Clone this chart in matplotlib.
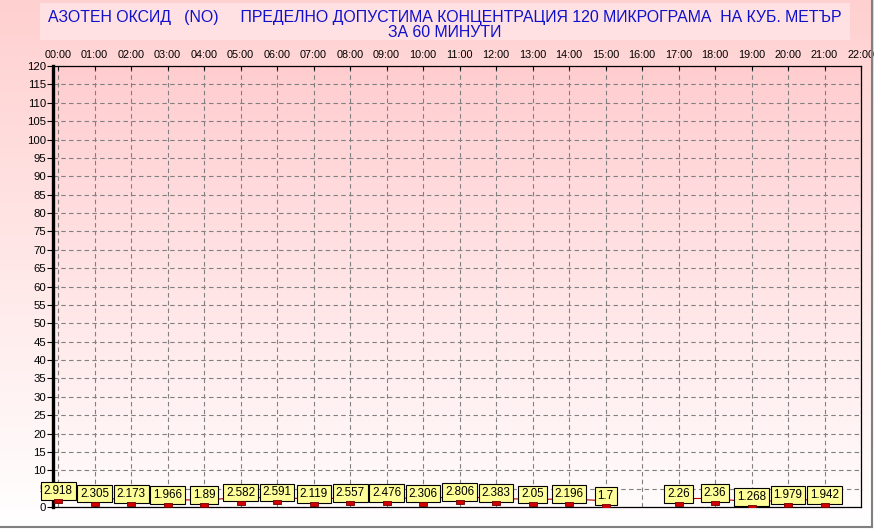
import numpy as np
import matplotlib.pyplot as plt
from matplotlib.lines import Line2D
from matplotlib.patches import Rectangle

# MARK:- data
hours = ["00:00", "01:00", "02:00", "03:00", "04:00", "05:00", "06:00", "07:00",
         "08:00", "09:00", "10:00", "11:00", "12:00", "13:00", "14:00", "15:00",
         "16:00", "17:00", "18:00", "19:00", "20:00", "21:00", "22:00"]
values = [2.918, 2.305, 2.173, 1.966, 1.89, 2.582, 2.591, 2.119, 2.557, 2.476,
          2.306, 2.806, 2.383, 2.05, 2.196, 1.7, np.nan, 2.26, 2.36, 1.268,
          1.979, 1.942]
labels = ["2.918", "2.305", "2.173", "1.966", "1.89", "2.582", "2.591", "2.119",
          "2.557", "2.476", "2.306", "2.806", "2.383", "2.05", "2.196", "1.7",
          "", "2.26", "2.36", "1.268", "1.979", "1.942"]
yticks = list(range(0, 125, 5))
title = ("АЗОТЕН ОКСИД   (NO)     ПРЕДЕЛНО ДОПУСТИМА КОНЦЕНТРАЦИЯ 120 МИКРОГРАМА  НА КУБ. МЕТЪР\n"
         "ЗА 60 МИНУТИ")

plt.rcParams['font.family'] = ['Liberation Sans', 'DejaVu Sans']

W, H = 874, 529
fig = plt.figure(figsize=(W / 100, H / 100), dpi=100)

# MARK:- background gradient
def gradient(top, bottom, n=256):
    t = np.linspace(0, 1, n)[:, None]
    top = np.array(top) / 255.0
    bottom = np.array(bottom) / 255.0
    g = top[None, :] * (1 - t) + bottom[None, :] * t
    return g[:, None, :]

bg = fig.add_axes([0, 0, 1, 1], zorder=-10)
bg.imshow(gradient((255, 208, 208), (255, 255, 255)), aspect='auto',
          extent=[0, 1, 0, 1])
bg.set_xlim(0, 1)
bg.set_ylim(0, 1)
bg.axis('off')

# title box
bg.add_patch(Rectangle((40 / W, 1 - 40 / H), 810 / W, 37 / H,
                       facecolor=(1, 0.88, 0.89), edgecolor='none'))
bg.text(445 / W, 1 - 25 / H, title, ha='center', va='center',
        color='#1010CC', fontsize=11.4, linespacing=1.0)

# outer frame
fig.add_artist(Line2D([0, 872 / W], [1 - 527 / H, 1 - 527 / H],
                      transform=fig.transFigure, color='#808080', lw=1.5))
fig.add_artist(Line2D([872 / W, 872 / W], [1 - 527 / H, 1],
                      transform=fig.transFigure, color='#808080', lw=1.5))

# MARK:- main plot
left, right, top, bot = 53, 861, 66, 507
ax = fig.add_axes([left / W, 1 - bot / H, (right - left) / W, (bot - top) / H])
ax.set_facecolor('none')
x = np.arange(len(values))
ax.set_xlim(-0.14, 22.0)
ax.set_ylim(0, 120)

ax.imshow(gradient((255, 205, 208), (255, 252, 252)), aspect='auto',
          extent=[-0.14, 22.0, 0, 120], zorder=0)

ax.grid(True, color='#808080', linestyle=(0, (4, 3)), linewidth=0.8, zorder=1)
ax.set_axisbelow(True)

ax.set_yticks(yticks)
ax.set_yticklabels([str(v) for v in yticks])
ax.set_xticks(range(len(hours)))
ax.set_xticklabels(hours)
ax.xaxis.tick_top()
ax.tick_params(axis='x', direction='in', length=3, labelsize=7.8, pad=4)
ax.tick_params(axis='y', direction='out', length=4, labelsize=8.2, pad=1)

ax.spines['left'].set_linewidth(2.4)
ax.spines['right'].set_linewidth(0.9)
ax.spines['top'].set_linewidth(0.9)
ax.spines['top'].set_linestyle((0, (3, 1)))
ax.spines['bottom'].set_linewidth(0.9)
ax.spines['bottom'].set_linestyle((0, (3, 1)))

# small red block sitting just below each value
rect_marker = [(-4, -2.5), (4, -2.5), (4, -6.5), (-4, -6.5), (-4, -2.5)]
ax.plot(x, values, color='#B00000', lw=0.8, zorder=3)
ax.plot(x, values, linestyle='none', marker=rect_marker, markersize=9.4,
        markerfacecolor='#D00000', markeredgecolor='#700000',
        markeredgewidth=0.6, zorder=6)

for xi, v, lab in zip(x, values, labels):
    if np.isnan(v):
        continue
    ax.annotate(lab, (xi, v), xytext=(0, 3.6), textcoords='offset points',
                ha='center', va='center', fontsize=8.4, zorder=5,
                bbox=dict(boxstyle='square,pad=0.25', facecolor='#FFFF99',
                          edgecolor='black', linewidth=0.8))

fig.savefig('out.png', dpi=100)
